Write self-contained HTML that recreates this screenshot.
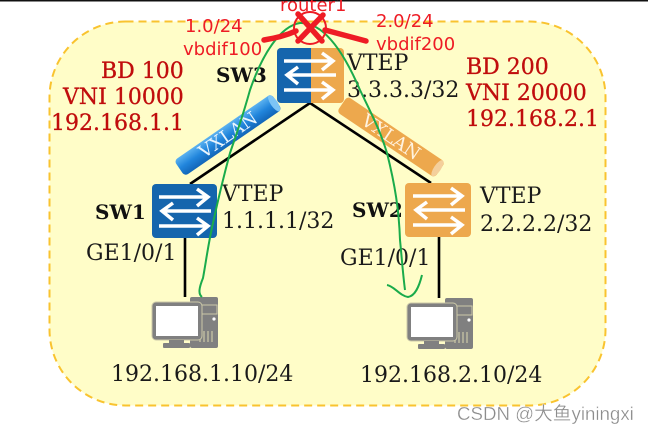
<!DOCTYPE html>
<html><head><meta charset="utf-8"><style>
html,body{margin:0;padding:0;background:#fff}
svg{display:block}
.s{font-family:"DejaVu Serif","Liberation Serif",serif;fill:#1a1a1a;font-size:22px}
.r{font-family:"DejaVu Serif","Liberation Serif",serif;fill:#c00d0d;font-size:22px;stroke:#c00d0d;stroke-width:.3}
.b{font-weight:bold;font-size:20px;fill:#111}
.h{font-family:"DejaVu Sans","Liberation Sans",sans-serif;fill:#ee1c25;font-size:18px}
</style></head><body>
<svg width="648" height="433" viewBox="0 0 648 433" xmlns="http://www.w3.org/2000/svg">
<defs>
<g id="arrows" fill="none" stroke="#fff" stroke-width="3.5">
<path d="M7 12H55M45 4L56 12L45 21"/>
<path d="M59 26H11M21 18L10 26L21 35"/>
<path d="M7 41H55M45 33L56 41L45 50"/>
</g>
<g id="pc">
<rect x="39" y="0" width="28" height="51" rx="2" fill="#808080"/>
<rect x="45" y="8" width="21" height="9" fill="none" stroke="#ccc9a8" stroke-width="1"/>
<circle cx="63" cy="22" r="1.6" fill="#fff"/>
<path d="M49 45V36M53 45V34M57 45V34M61 45V34" stroke="#ccc9a8" stroke-width="1.2"/>
<rect x="1" y="5" width="50" height="38" rx="4" fill="#808080" stroke="#ccc9a8" stroke-width="1"/>
<rect x="5" y="9" width="42" height="30" fill="#fff"/>
<rect x="18" y="43" width="15" height="4" fill="#808080"/>
<rect x="12" y="46" width="27" height="5" rx="1" fill="#808080"/>
</g>
<linearGradient id="bc" x1="0" y1="0" x2="0" y2="1"><stop offset="0" stop-color="#5cb2f0"/><stop offset=".5" stop-color="#2185dc"/><stop offset="1" stop-color="#1266b8"/></linearGradient>
</defs>
<rect width="648" height="433" fill="#fff"/>
<rect x="0" y="0" width="648" height="1.5" fill="#111"/>
<rect x="49.5" y="21.5" width="556" height="384" rx="76" fill="#fffdc8" stroke="#f9c32f" stroke-width="2" stroke-dasharray="8 5"/>

<path d="M310 103L190 184M310 103L431 183M185 238V297M439 237V298" stroke="#000" stroke-width="2.6" fill="none"/>

<g transform="translate(228 135) rotate(-34.5)">
<rect x="-59" y="-9.5" width="118" height="19" rx="4" fill="url(#bc)"/>
<ellipse cx="56" cy="0" rx="3.5" ry="9.5" fill="#7cc4f5"/>
<text x="0" y="6" text-anchor="middle" font-family="DejaVu Serif" font-size="18" fill="#e8f4fd">VXLAN</text>
</g>
<g transform="translate(391 137) rotate(34)">
<rect x="-59" y="-9.5" width="118" height="19" rx="4" fill="#eda84d"/>
<ellipse cx="56" cy="0" rx="3.5" ry="9.5" fill="#f4cf9c"/>
<text x="0" y="6" text-anchor="middle" font-family="DejaVu Serif" font-size="18" fill="#fff3e0">VXLAN</text>
</g>

<rect x="277" y="48" width="67" height="55" rx="4" fill="#eda84d"/>
<path d="M311 48H281a4 4 0 0 0-4 4v47a4 4 0 0 0 4 4h30z" fill="#1565ad"/>
<g transform="translate(277 49)"><use href="#arrows"/></g>

<rect x="152" y="184" width="65" height="54" rx="4" fill="#1565ad"/>
<g transform="translate(152 185)"><use href="#arrows"/></g>

<rect x="405" y="183" width="66" height="54" rx="4" fill="#eda84d"/>
<g transform="translate(406 184)"><use href="#arrows"/></g>

<use href="#pc" x="151" y="297"/>
<use href="#pc" x="406" y="298"/>

<text class="s b" x="216" y="82">SW3</text>
<text class="s b" x="95" y="219">SW1</text>
<text class="s b" x="352" y="217">SW2</text>
<text class="s" x="347" y="70">VTEP</text>
<text class="s" x="347" y="97">3.3.3.3/32</text>
<text class="s" x="222" y="201">VTEP</text>
<text class="s" x="222" y="228">1.1.1.1/32</text>
<text class="s" x="480" y="203">VTEP</text>
<text class="s" x="480" y="231">2.2.2.2/32</text>
<text class="s" x="86" y="260">GE1/0/1</text>
<text class="s" x="340" y="265">GE1/0/1</text>
<text class="s" x="111" y="381">192.168.1.10/24</text>
<text class="s" x="360" y="382">192.168.2.10/24</text>

<text class="r" x="101" y="78">BD 100</text>
<text class="r" x="63" y="104">VNI 10000</text>
<text class="r" x="51" y="130">192.168.1.1</text>
<text class="r" x="466" y="74">BD 200</text>
<text class="r" x="466" y="100">VNI 20000</text>
<text class="r" x="466" y="126">192.168.2.1</text>

<path d="M202 297C198 294 199 288 203 278C206 262 208 245 213 223C218 200 224 175 230 153C238 130 245 108 250 90C262 55 280 26 300 23C325 22 345 55 360 90C372 115 380 130 387 153C395 185 399 210 400 240C402 260 403 275 405 290M387 285C394 286 400 296 408 297C415 296 419 287 422 275" fill="none" stroke="#1aab4b" stroke-width="2"/>

<text class="h" x="280" y="11">router1</text>
<text class="h" x="185" y="32">1.0/24</text>
<text class="h" x="183" y="55">vbdif100</text>
<text class="h" x="376" y="27">2.0/24</text>
<text class="h" x="376" y="50">vbdif200</text>
<circle cx="310" cy="28" r="16" fill="none" stroke="#ee1c25" stroke-width="2"/>
<path d="M298 14L322 41M323 15L298 41" stroke="#ee1c25" stroke-width="5.5" stroke-linecap="round"/>
<path d="M264 40C275 38 285 36 296 31M325 30L366 41" fill="none" stroke="#ee1c25" stroke-width="5.5" stroke-linecap="round"/>

<text x="457" y="420" font-family="'Liberation Sans','Noto Sans CJK SC',sans-serif" font-size="18.7" fill="#8c8c8c" stroke="#fff" stroke-width=".3">CSDN @大鱼yiningxi</text>
</svg>
</body></html>
